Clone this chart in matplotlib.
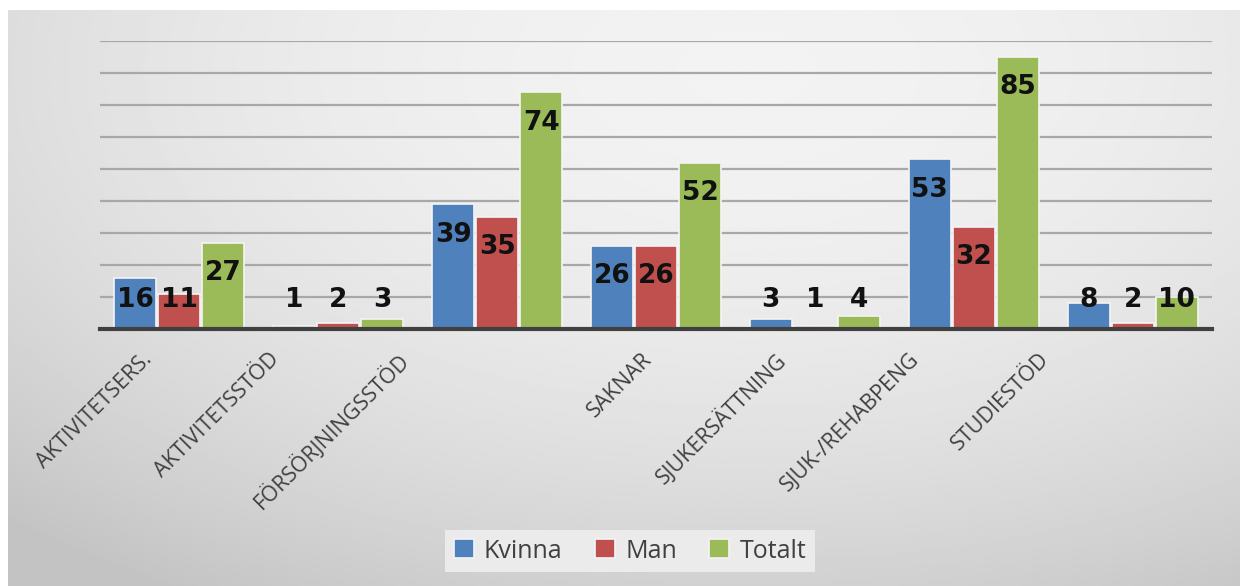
import matplotlib.pyplot as plt
import numpy as np

plt.rcParams['font.family'] = ['Open Sans', 'DejaVu Sans']

categories = ['AKTIVITETSERS.', 'AKTIVITETSSTÖD', 'FÖRSÖRJNINGSSTÖD', 'SAKNAR',
              'SJUKERSÄTTNING', 'SJUK-/REHABPENG', 'STUDIESTÖD']
kvinna = [16, 1, 39, 26, 3, 53, 8]
man = [11, 2, 35, 26, 1, 32, 2]
totalt = [27, 3, 74, 52, 4, 85, 10]
series_names = ['Kvinna', 'Man', 'Totalt']
colors = ['#4f81bd', '#c0504d', '#9bbb59']

# where each rotated label ends, relative to its group centre
label_shift = [-0.24, -0.44, -0.63, -0.09, -0.25, -0.41, -0.59]

fig = plt.figure(figsize=(12.47, 5.86), dpi=100)
fig.patch.set_facecolor('white')

# gradient chart background
bg = fig.add_axes([8/1247, 0, 1232/1247, 1 - 10/586])
bg.axis('off')
yy, xx = np.mgrid[0:1:200j, 0:1:400j]
r = np.sqrt(((xx - 0.6) / 0.75) ** 2 + ((yy - 0.1) / 0.9) ** 2)
shade = 0.95 - 0.13 * np.clip(r, 0, 1.2) ** 2
bg.imshow(shade, cmap='gray', vmin=0, vmax=1, aspect='auto', extent=(0, 1, 0, 1))
bg.set_xlim(0, 1)
bg.set_ylim(0, 1)

ax = fig.add_axes([100/1247, 1 - 329/586, 1112/1247, (329 - 41)/586])
ax.patch.set_alpha(0)

x = np.arange(len(categories))
step = 0.277
width = 0.265
for i, (vals, name, c) in enumerate(zip([kvinna, man, totalt], series_names, colors)):
    pos = x + (i - 1) * step
    ax.bar(pos, vals, width, color=c, edgecolor='#f4f4f4', linewidth=1.2,
           label=name, zorder=3)
    for px, v in zip(pos, vals):
        ax.text(px, max(v - 9.5, 9), str(v), ha='center', va='center',
                fontsize=19, fontweight='bold', family='DejaVu Sans',
                color='#111111', zorder=4)

ax.set_xlim(-0.5, len(categories) - 0.5)
ax.set_ylim(0, 90)
ax.set_yticks(np.arange(0, 91, 10))
ax.yaxis.grid(True, color='#a8a8a8', linewidth=1.6, zorder=0)
ax.tick_params(axis='y', left=False, labelleft=False)
ax.tick_params(axis='x', length=0, pad=14)
for s in ['top', 'right', 'left']:
    ax.spines[s].set_visible(False)
ax.spines['bottom'].set_color('#404040')
ax.spines['bottom'].set_linewidth(3)
ax.spines['bottom'].set_zorder(5)

ax.set_xticks(x + np.array(label_shift))
ax.set_xticklabels(categories, rotation=45, ha='right', rotation_mode='anchor',
                   fontsize=15.5, color='#404040')

leg = ax.legend(loc='center', bbox_to_anchor=(630/1247, 1 - 551/586),
                bbox_transform=fig.transFigure, ncol=3, frameon=True,
                fontsize=18, handlelength=0.8, handleheight=0.8,
                handletextpad=0.4, columnspacing=1.3, borderpad=0.35,
                fancybox=False)
leg.get_frame().set_facecolor('#ebebeb')
leg.get_frame().set_edgecolor('none')
leg.get_frame().set_alpha(1)
for t in leg.get_texts():
    t.set_color('#404040')

fig.savefig('out.png', dpi=100)
